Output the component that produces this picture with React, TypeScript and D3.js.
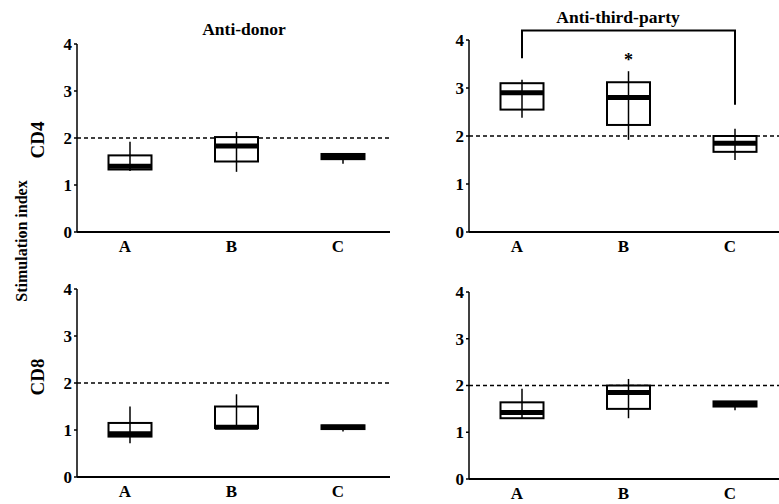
import * as d3 from 'd3'

const categories = ['A', 'B', 'C']
const yTicks = [0, 1, 2, 3, 4]
const threshold = 2

// box stats per group: min, q1, median, q3, max
const cd4AntiDonor = [
  { min: 1.3, q1: 1.33, median: 1.4, q3: 1.63, max: 1.92 },
  { min: 1.28, q1: 1.5, median: 1.83, q3: 2.02, max: 2.13 },
  { min: 1.45, q1: 1.55, median: 1.6, q3: 1.66, max: 1.66 },
]
const cd4AntiThird = [
  { min: 2.38, q1: 2.55, median: 2.9, q3: 3.1, max: 3.17 },
  { min: 1.92, q1: 2.23, median: 2.8, q3: 3.12, max: 3.35 },
  { min: 1.5, q1: 1.67, median: 1.85, q3: 2.0, max: 2.15 },
]
const cd8AntiDonor = [
  { min: 0.72, q1: 0.86, median: 0.92, q3: 1.15, max: 1.5 },
  { min: 1.04, q1: 1.04, median: 1.06, q3: 1.5, max: 1.76 },
  { min: 0.97, q1: 1.02, median: 1.06, q3: 1.1, max: 1.1 },
]
const cd8AntiThird = [
  { min: 1.3, q1: 1.3, median: 1.42, q3: 1.64, max: 1.93 },
  { min: 1.3, q1: 1.5, median: 1.85, q3: 2.0, max: 2.14 },
  { min: 1.47, q1: 1.55, median: 1.6, q3: 1.66, max: 1.66 },
]

// significance bracket (anti-third-party CD4, A vs C)
const bracket = { from: 'A', to: 'C', top: 4.2, leftEnd: 3.62, rightEnd: 2.65, star: 3.72 }

const txt = { fontFamily: "'Liberation Serif', 'DejaVu Serif', serif", fontWeight: 700 } as const

type Stat = { min: number; q1: number; median: number; q3: number; max: number }

function Panel({ stats, axisX, xEnd, y0, y4, showBracket }: {
  stats: Stat[]; axisX: number; xEnd: number; y0: number; y4: number; showBracket?: boolean
}) {
  const x = d3.scalePoint<string>().domain(categories).range([axisX + 53, axisX + 266])
  const y = d3.scaleLinear().domain([0, 4]).range([y0, y4])
  const bw = 43
  return (
    <g>
      {/* dashed reference line */}
      <line x1={axisX} x2={xEnd} y1={y(threshold)} y2={y(threshold)}
        stroke="#000" strokeWidth={1.6} strokeDasharray="4,3" />
      {/* axes */}
      <line x1={axisX} x2={axisX} y1={y(0)} y2={y(4)} stroke="#000" strokeWidth={1.5} />
      <line x1={axisX} x2={xEnd} y1={y(0)} y2={y(0)} stroke="#000" strokeWidth={2} />
      {yTicks.map(t => (
        <g key={t}>
          <line x1={axisX - 3} x2={axisX} y1={y(t)} y2={y(t)} stroke="#000" strokeWidth={1.5} />
          <text x={axisX - 5} y={y(t)} dy="0.35em" textAnchor="end" style={{ ...txt, fontSize: 17 }}>{t}</text>
        </g>
      ))}
      {categories.map(c => (
        <text key={c} x={x(c)! - 5} y={y(0) + 20} textAnchor="middle" style={{ ...txt, fontSize: 17 }}>{c}</text>
      ))}
      {/* boxes */}
      {stats.map((s, i) => {
        const cx = x(categories[i])!
        return (
          <g key={i}>
            <rect x={cx - bw / 2} y={y(s.q3)} width={bw} height={y(s.q1) - y(s.q3)}
              fill="#fff" stroke="#000" strokeWidth={2} />
            <line x1={cx} x2={cx} y1={y(s.max)} y2={y(s.min)} stroke="#000" strokeWidth={1.5} />
            <line x1={cx - bw / 2} x2={cx + bw / 2} y1={y(s.median)} y2={y(s.median)}
              stroke="#000" strokeWidth={5} />
          </g>
        )
      })}
      {showBracket && (
        <g>
          <path d={`M${x(bracket.from)},${y(bracket.leftEnd)}V${y(bracket.top)}H${x(bracket.to)}V${y(bracket.rightEnd)}`}
            fill="none" stroke="#000" strokeWidth={2} />
          <text x={x('B')} y={y(bracket.star)} dy="0.7em" textAnchor="middle" style={{ ...txt, fontSize: 18 }}>*</text>
        </g>
      )}
    </g>
  )
}

export default function App() {
  return (
    <svg width={779} height={504} style={{ position: 'absolute', left: 0, top: 0, background: '#fff' }}>
      <rect width={779} height={504} fill="#fff" />
      <text x={244} y={35} textAnchor="middle" style={{ ...txt, fontSize: 17.5 }}>Anti-donor</text>
      <text x={618} y={23} textAnchor="middle" style={{ ...txt, fontSize: 17.5 }}>Anti-third-party</text>
      <text transform="translate(27,241) rotate(-90)" textAnchor="middle" style={{ ...txt, fontSize: 16 }}>Stimulation index</text>
      <text transform="translate(44,140) rotate(-90)" textAnchor="middle" style={{ ...txt, fontSize: 19 }}>CD4</text>
      <text transform="translate(44,377) rotate(-90)" textAnchor="middle" style={{ ...txt, fontSize: 19 }}>CD8</text>

      <Panel stats={cd4AntiDonor} axisX={77} xEnd={390} y0={232} y4={44} />
      <Panel stats={cd4AntiThird} axisX={469} xEnd={779} y0={232} y4={40} showBracket />
      <Panel stats={cd8AntiDonor} axisX={77} xEnd={390} y0={477} y4={289} />
      <Panel stats={cd8AntiThird} axisX={469} xEnd={779} y0={479} y4={292} />
    </svg>
  )
}
